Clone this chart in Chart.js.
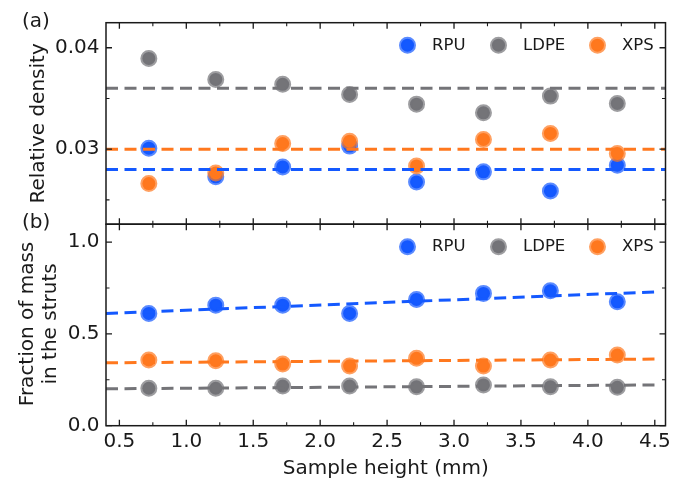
<!DOCTYPE html>
<html><head><meta charset="utf-8">
<script src="https://cdn.jsdelivr.net/npm/chart.js@4.4.1/dist/chart.umd.min.js"></script>
<style>html,body{margin:0;padding:0;background:#fff;} canvas{display:block;}</style>
</head><body>
<canvas id="c" width="676" height="479"></canvas>
<script>
// ---- data ----
const heights = [0.72, 1.22, 1.72, 2.22, 2.72, 3.22, 3.72, 4.22];
const seriesNames = ['RPU', 'LDPE', 'XPS'];
const rpuDensity  = [0.0301, 0.02727, 0.02825, 0.0303, 0.02677, 0.02776, 0.02588, 0.02842];
const ldpeDensity = [0.03895, 0.03688, 0.03639, 0.0354, 0.03444, 0.03358, 0.03523, 0.03451];
const xpsDensity  = [0.02661, 0.02766, 0.03056, 0.03079, 0.02835, 0.03096, 0.03155, 0.02958];
const rpuStrut  = [0.612, 0.657, 0.657, 0.612, 0.688, 0.721, 0.735, 0.675];
const ldpeStrut = [0.204, 0.204, 0.216, 0.216, 0.212, 0.222, 0.212, 0.209];
const xpsStrut  = [0.358, 0.354, 0.336, 0.325, 0.367, 0.325, 0.358, 0.385];
const meanLineX = [0.4, 4.58];
const rpuDensityMean  = [0.028, 0.028];
const ldpeDensityMean = [0.036, 0.036];
const xpsDensityMean  = [0.030, 0.030];
const fitLineX = [0.4, 4.5];
const rpuStrutFit  = [0.612, 0.729];
const ldpeStrutFit = [0.201, 0.222];
const xpsStrutFit  = [0.343, 0.363];
const xTicks = [0.5, 1.0, 1.5, 2.0, 2.5, 3.0, 3.5, 4.0, 4.5];
const xMinorTicks = [0.75, 1.25, 1.75, 2.25, 2.75, 3.25, 3.75, 4.25];
const densityTicks = [0.03, 0.04];
const densityMinorTicks = [0.025, 0.035];
const strutTicks = [0.0, 0.5, 1.0];
const strutMinorTicks = [0.25, 0.75];
const xTitle = 'Sample height (mm)';
const densityTitle = 'Relative density';
const strutTitle = ['Fraction of mass', 'in the struts'];

// ---- style ----
const COLORS = { RPU: '#1459ff', LDPE: '#747478', XPS: '#ff781e' };
const FADE = { RPU: 'rgba(20,89,255,0.7)', LDPE: 'rgba(116,116,120,0.7)', XPS: 'rgba(255,120,30,0.7)' };
const TXT = '#1a1a1a';
const FONT = '"DejaVu Sans", sans-serif';

const pts = (ys) => heights.map((x, i) => ({ x, y: ys[i] }));
const line = (xs, ys) => xs.map((x, i) => ({ x, y: ys[i] }));

function scatterDs(name, ys, axis, order) {
  return { type: 'scatter', label: name, data: pts(ys), yAxisID: axis, order,
    backgroundColor: COLORS[name], borderColor: FADE[name], pointRadius: 6.5, pointBorderWidth: 4,
    pointHoverRadius: 6.5 };
}
function lineDs(name, xs, ys, axis) {
  return { type: 'line', label: name + ' fit', data: line(xs, ys), yAxisID: axis, order: 0,
    borderColor: COLORS[name], borderWidth: 3, borderDash: [12, 6.5], pointRadius: 0, fill: false, tension: 0 };
}

const datasets = [
  lineDs('LDPE', meanLineX, ldpeDensityMean, 'ya'),
  lineDs('XPS', meanLineX, xpsDensityMean, 'ya'),
  lineDs('RPU', meanLineX, rpuDensityMean, 'ya'),
  lineDs('RPU', fitLineX, rpuStrutFit, 'yb'),
  lineDs('XPS', fitLineX, xpsStrutFit, 'yb'),
  lineDs('LDPE', fitLineX, ldpeStrutFit, 'yb'),
  scatterDs('RPU', rpuDensity, 'ya', 3),
  scatterDs('LDPE', ldpeDensity, 'ya', 2),
  scatterDs('XPS', xpsDensity, 'ya', 1),
  scatterDs('RPU', rpuStrut, 'yb', 3),
  scatterDs('LDPE', ldpeStrut, 'yb', 2),
  scatterDs('XPS', xpsStrut, 'yb', 1),
];

function yScale(min, max, ticks, digits) {
  return {
    type: 'linear', position: 'left', stack: 'panels', stackWeight: 1, min, max,
    grid: { display: false, drawTicks: false }, border: { display: false },
    ticks: { color: TXT, font: { family: FONT, size: 20 }, padding: 6.5,
      callback: (v) => Number(v).toFixed(digits) },
    afterBuildTicks: (s) => { s.ticks = ticks.map((v) => ({ value: v })); },
    afterFit: (s) => { s.width = 106; }
  };
}

const deco = {
  id: 'deco',
  afterDatasetsDraw(chart) {
    const ctx = chart.ctx, ca = chart.chartArea;
    const xs = chart.scales.x, ya = chart.scales.ya, yb = chart.scales.yb;
    ctx.save();
    ctx.strokeStyle = TXT; ctx.fillStyle = TXT;
    const panels = [[ya, densityTicks, densityMinorTicks], [yb, strutTicks, strutMinorTicks]];
    for (const [ys, maj, mnr] of panels) {
      ctx.lineWidth = 1.5;
      ctx.strokeRect(ca.left, ys.top, ca.right - ca.left, ys.bottom - ys.top);
      const tk = (list, len) => {
        ctx.beginPath();
        for (const v of list) {
          const px = xs.getPixelForValue(v);
          ctx.moveTo(px, ys.top); ctx.lineTo(px, ys.top + len);
          ctx.moveTo(px, ys.bottom); ctx.lineTo(px, ys.bottom - len);
        }
        ctx.stroke();
      };
      const tky = (list, len) => {
        ctx.beginPath();
        for (const v of list) {
          const py = ys.getPixelForValue(v);
          ctx.moveTo(ca.left, py); ctx.lineTo(ca.left + len, py);
          ctx.moveTo(ca.right, py); ctx.lineTo(ca.right - len, py);
        }
        ctx.stroke();
      };
      ctx.lineWidth = 1.3;
      tk(xTicks, 6); tky(maj, 6);
      ctx.lineWidth = 1.1;
      tk(xMinorTicks, 3.5); tky(mnr, 3.5);

      // legend
      const ly = ys.top + 22.5;
      const offs = [258, 167, 68];
      ctx.font = '16.5px ' + FONT;
      ctx.textBaseline = 'middle'; ctx.textAlign = 'left';
      seriesNames.forEach((n, i) => {
        const cx = ca.right - offs[i];
        ctx.beginPath(); ctx.arc(cx, ly, 6.5, 0, Math.PI * 2);
        ctx.fillStyle = COLORS[n]; ctx.fill();
        ctx.lineWidth = 4; ctx.strokeStyle = FADE[n]; ctx.stroke();
        ctx.fillStyle = TXT;
        ctx.fillText(n, cx + 24.5, ly + 0.5);
      });
      ctx.strokeStyle = TXT;
    }
    // titles
    ctx.fillStyle = TXT;
    ctx.font = '20px ' + FONT;
    ctx.textAlign = 'center'; ctx.textBaseline = 'alphabetic';
    ctx.fillText(xTitle, (ca.left + ca.right) / 2, 474);
    ctx.save();
    ctx.translate(43.5, (ya.top + ya.bottom) / 2); ctx.rotate(-Math.PI / 2);
    ctx.fillText(densityTitle, 0, 0);
    ctx.restore();
    ctx.save();
    ctx.translate(32.5, (yb.top + yb.bottom) / 2 - 1); ctx.rotate(-Math.PI / 2);
    ctx.fillText(strutTitle[0], 0, 0);
    ctx.fillText(strutTitle[1], 0, 23);
    ctx.restore();
    ctx.textAlign = 'left';
    ctx.fillText('(a)', 22, ya.top + 4.5);
    ctx.fillText('(b)', 22, yb.top + 4);
    ctx.restore();
  }
};

new Chart(document.getElementById('c'), {
  data: { datasets },
  options: {
    responsive: false, animation: false, events: [],
    layout: { padding: { left: 0, top: 22.7, right: 7.3, bottom: 0 } },
    plugins: { legend: { display: false }, tooltip: { enabled: false } },
    scales: {
      x: {
        type: 'linear', position: 'bottom', min: 0.4, max: 4.58,
        grid: { display: false, drawTicks: false }, border: { display: false },
        ticks: { color: TXT, font: { family: FONT, size: 20 }, padding: 4, maxRotation: 0,
          callback: (v) => Number(v).toFixed(1) },
        afterBuildTicks: (s) => { s.ticks = xTicks.map((v) => ({ value: v })); },
        afterFit: (s) => { s.height = 53.3; }
      },
      yb: yScale(0, 1.098, strutTicks, 1),
      ya: yScale(0.0226, 0.04247, densityTicks, 2)
    }
  },
  plugins: [deco]
});
</script>
</body></html>
